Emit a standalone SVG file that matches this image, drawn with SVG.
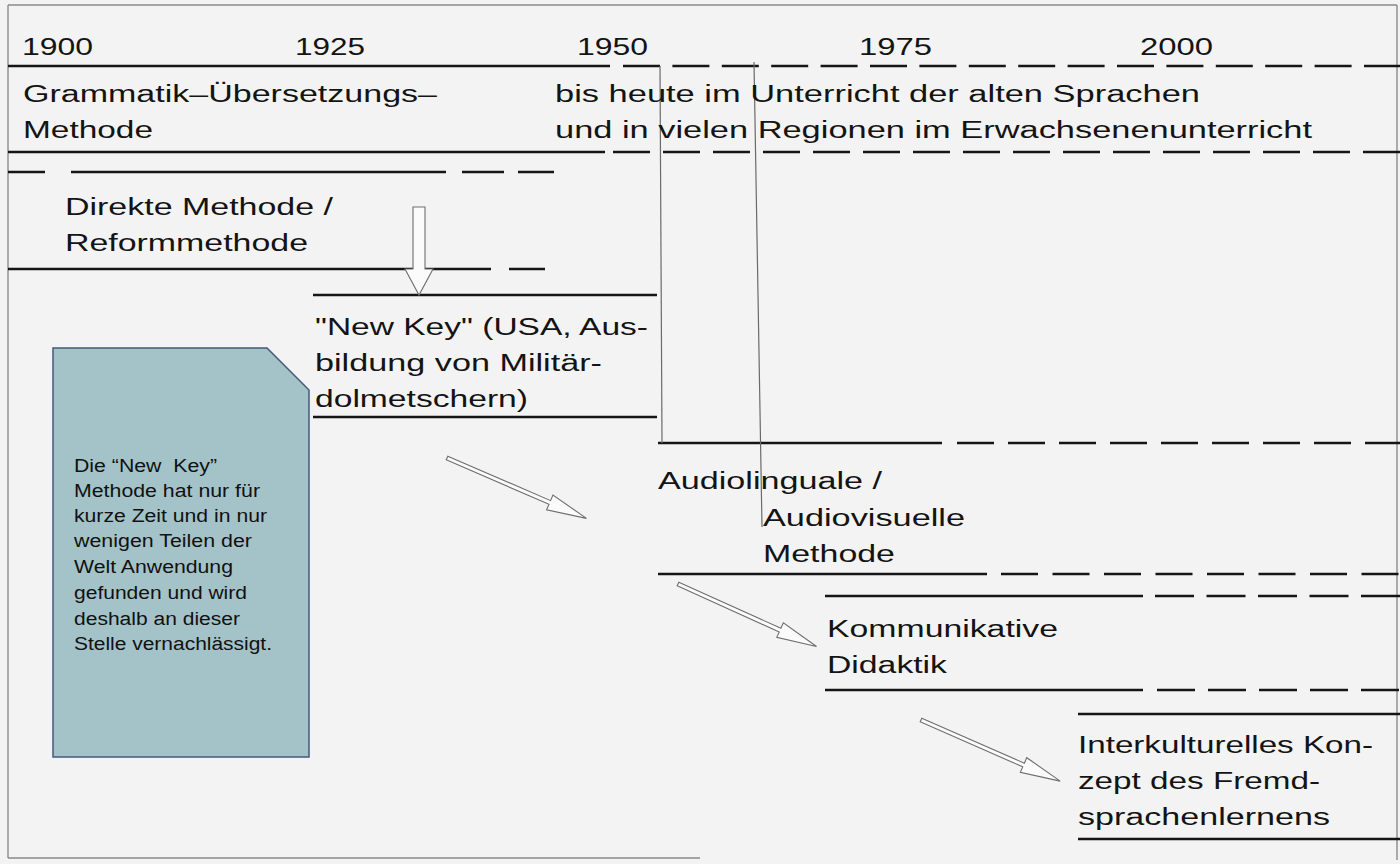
<svg xmlns="http://www.w3.org/2000/svg" xmlns:xlink="http://www.w3.org/1999/xlink" width="1400" height="864" viewBox="0 0 1400 864">
<defs>
<style>
.t{font-family:"Liberation Sans",Arial,sans-serif;font-size:23px;fill:#141414}
.n{font-family:"Liberation Sans Narrow","Liberation Sans",Arial,sans-serif;font-size:18px;fill:#111}
.ln{stroke:#151515;stroke-width:2.6;fill:none}
.dl{stroke:#151515;stroke-width:2.6;fill:none;stroke-dasharray:37 13}
.thin{stroke:#6a6a6a;stroke-width:1.2;fill:none}
.frame{stroke:#8a8a8a;stroke-width:1.4;fill:none}
.arr{fill:#fbfbfb;stroke:#6e6e6e;stroke-width:1.1}
</style>
<path id="diagArrow" d="M0,-2 L112,-2 L112,-8 L152,0 L112,8 L112,2 L0,2 Z"/>
</defs>
<rect width="1400" height="864" fill="#f3f3f3"/>
<g id="frame">
<line class="frame" x1="8" y1="5" x2="1397" y2="5"/>
<line class="frame" x1="8" y1="5" x2="8" y2="858"/>
<line class="frame" x1="1397" y1="5" x2="1397" y2="860"/>
<line class="frame" x1="8" y1="858" x2="700" y2="858"/>
</g>
<g id="grid">
<line class="ln" x1="8" y1="66" x2="610" y2="66"/>
<line class="dl" x1="623" y1="66" x2="1400" y2="66" style="stroke-dasharray:37 12.4"/>
<line class="ln" x1="8" y1="152" x2="605" y2="152"/>
<line class="dl" x1="613" y1="152" x2="1400" y2="152"/>
<line class="ln" x1="8" y1="172" x2="45" y2="172"/>
<line class="ln" x1="71" y1="172" x2="446" y2="172"/>
<line class="ln" x1="462" y1="172" x2="504" y2="172"/>
<line class="ln" x1="518" y1="172" x2="554" y2="172"/>
<line class="ln" x1="8" y1="269" x2="491" y2="269"/>
<line class="ln" x1="509" y1="269" x2="545" y2="269"/>
<line class="ln" x1="313" y1="295" x2="657" y2="295"/>
<line class="ln" x1="313" y1="417" x2="657" y2="417"/>
<line class="ln" x1="658" y1="443" x2="942" y2="443"/>
<line class="dl" x1="957" y1="443" x2="1400" y2="443" style="stroke-dasharray:37 14"/>
<line class="ln" x1="658" y1="574" x2="987" y2="574"/>
<line class="dl" x1="1001" y1="574" x2="1400" y2="574" style="stroke-dasharray:37 14.5"/>
<line class="ln" x1="825" y1="596" x2="1143" y2="596"/>
<line class="dl" x1="1155" y1="596" x2="1400" y2="596" style="stroke-dasharray:39 12.5"/>
<line class="ln" x1="825" y1="690" x2="1143" y2="690"/>
<line class="dl" x1="1157" y1="690" x2="1400" y2="690" style="stroke-dasharray:38 13"/>
<line class="ln" x1="1078" y1="714" x2="1400" y2="714"/>
<line class="ln" x1="1078" y1="839" x2="1400" y2="839"/>
<line class="thin" x1="660" y1="66" x2="662" y2="443"/>
<line class="thin" x1="754" y1="62" x2="762" y2="527"/>
</g>
<g id="years">
<text class="t" x="22" y="55" textLength="71" lengthAdjust="spacingAndGlyphs">1900</text>
<text class="t" x="295" y="55" textLength="70" lengthAdjust="spacingAndGlyphs">1925</text>
<text class="t" x="577" y="55" textLength="71" lengthAdjust="spacingAndGlyphs">1950</text>
<text class="t" x="859" y="55" textLength="73" lengthAdjust="spacingAndGlyphs">1975</text>
<text class="t" x="1140" y="55" textLength="73" lengthAdjust="spacingAndGlyphs">2000</text>
</g>
<g id="node-gum">
<text class="t" x="23" y="102" textLength="414" lengthAdjust="spacingAndGlyphs">Grammatik–Übersetzungs–</text>
<text class="t" x="23" y="138" textLength="130" lengthAdjust="spacingAndGlyphs">Methode</text>
</g>
<g id="node-bisheute">
<text class="t" x="555" y="102" textLength="645" lengthAdjust="spacingAndGlyphs">bis heute im Unterricht der alten Sprachen</text>
<text class="t" x="555" y="138" textLength="757" lengthAdjust="spacingAndGlyphs">und in vielen Regionen im Erwachsenenunterricht</text>
</g>
<g id="node-direkt">
<text class="t" x="65" y="215" textLength="268" lengthAdjust="spacingAndGlyphs">Direkte Methode /</text>
<text class="t" x="65" y="251" textLength="243" lengthAdjust="spacingAndGlyphs">Reformmethode</text>
</g>
<g id="node-newkey">
<text class="t" x="315" y="335" textLength="333" lengthAdjust="spacingAndGlyphs">"New Key" (USA, Aus-</text>
<text class="t" x="315" y="371" textLength="287" lengthAdjust="spacingAndGlyphs">bildung von Militär-</text>
<text class="t" x="315" y="407" textLength="213" lengthAdjust="spacingAndGlyphs">dolmetschern)</text>
</g>
<g id="node-audio">
<text class="t" x="658" y="489" textLength="224" lengthAdjust="spacingAndGlyphs">Audiolinguale /</text>
<text class="t" x="763" y="526" textLength="202" lengthAdjust="spacingAndGlyphs">Audiovisuelle</text>
<text class="t" x="763" y="562" textLength="132" lengthAdjust="spacingAndGlyphs">Methode</text>
</g>
<g id="node-komm">
<text class="t" x="827" y="637" textLength="231" lengthAdjust="spacingAndGlyphs">Kommunikative</text>
<text class="t" x="827" y="673" textLength="120" lengthAdjust="spacingAndGlyphs">Didaktik</text>
</g>
<g id="node-inter">
<text class="t" x="1078" y="753" textLength="295" lengthAdjust="spacingAndGlyphs">Interkulturelles Kon-</text>
<text class="t" x="1078" y="789" textLength="242" lengthAdjust="spacingAndGlyphs">zept des Fremd-</text>
<text class="t" x="1078" y="825" textLength="252" lengthAdjust="spacingAndGlyphs">sprachenlernens</text>
</g>
<g id="node-note">
<path d="M53,348 L267,348 L309,390 L309,757 L53,757 Z" fill="#a3c3c8" stroke="#44597a" stroke-width="1.5"/>
<text class="n" x="74" y="472" textLength="143" lengthAdjust="spacingAndGlyphs" style="white-space:pre">Die “New  Key”</text>
<text class="n" x="74" y="497" textLength="186" lengthAdjust="spacingAndGlyphs">Methode hat nur für</text>
<text class="n" x="74" y="522" textLength="193" lengthAdjust="spacingAndGlyphs">kurze Zeit und in nur</text>
<text class="n" x="74" y="547" textLength="178" lengthAdjust="spacingAndGlyphs">wenigen Teilen der</text>
<text class="n" x="74" y="573" textLength="159" lengthAdjust="spacingAndGlyphs">Welt Anwendung</text>
<text class="n" x="74" y="599" textLength="173" lengthAdjust="spacingAndGlyphs">gefunden und wird</text>
<text class="n" x="74" y="625" textLength="166" lengthAdjust="spacingAndGlyphs">deshalb an dieser</text>
<text class="n" x="74" y="650" textLength="198" lengthAdjust="spacingAndGlyphs">Stelle vernachlässigt.</text>
</g>
<g id="connectors">
<path class="arr" d="M413,207 L425,207 L425,269 L433,269 L419,295 L405,269 L413,269 Z"/>
<use xlink:href="#diagArrow" class="arr" transform="translate(447,458) rotate(23.4)"/>
<use xlink:href="#diagArrow" class="arr" transform="translate(678,584) rotate(24.3)"/>
<use xlink:href="#diagArrow" class="arr" transform="translate(921,720) rotate(23.7)"/>
</g>
</svg>
